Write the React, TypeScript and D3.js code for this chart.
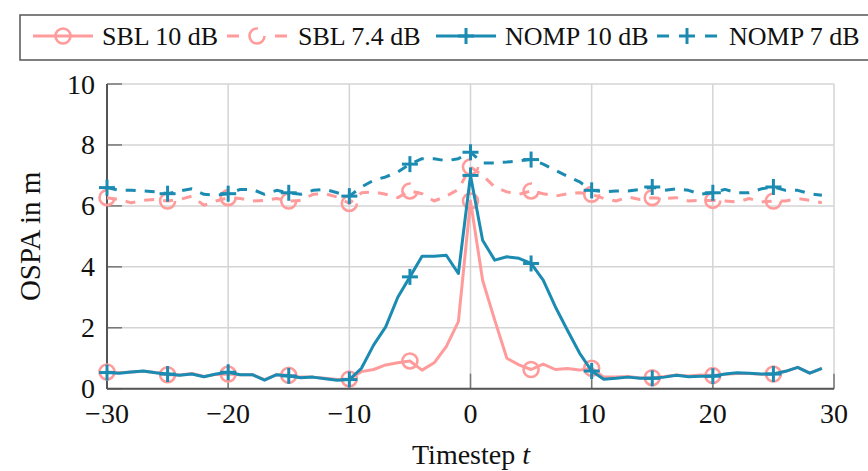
import React from "react";
import * as d3 from "d3";

const timesteps = d3.range(-30, 30);
const markerSteps = [-30, -25, -20, -15, -10, -5, 0, 5, 10, 15, 20, 25];

const sbl10 = [
  0.55, 0.52, 0.55, 0.57, 0.53, 0.46, 0.45, 0.5, 0.4, 0.47,
  0.48, 0.46, 0.46, 0.3, 0.46, 0.44, 0.38, 0.38, 0.34, 0.3,
  0.32, 0.56, 0.63, 0.78, 0.85, 0.91, 0.61, 0.85, 1.38, 2.2,
  6.16, 3.56, 2.25, 1.0, 0.78, 0.63, 0.81, 0.63, 0.66, 0.61,
  0.67, 0.38, 0.38, 0.4, 0.35, 0.36, 0.4, 0.45, 0.42, 0.45,
  0.43, 0.47, 0.5, 0.5, 0.47, 0.48, 0.57, 0.7, 0.51, 0.67,
];
const sbl74 = [
  6.27, 6.21, 6.1, 6.18, 6.21, 6.16, 6.21, 6.32, 6.02, 6.16,
  6.27, 6.24, 6.16, 6.18, 6.24, 6.16, 6.18, 6.38, 6.4, 6.29,
  6.08, 6.43, 6.46, 6.38, 6.27, 6.49, 6.4, 6.16, 6.32, 6.54,
  7.28, 7.0, 6.62, 6.46, 6.38, 6.49, 6.4, 6.32, 6.4, 6.43,
  6.38, 6.24, 6.16, 6.29, 6.21, 6.27, 6.24, 6.27, 6.16, 6.18,
  6.18, 6.16, 6.13, 6.24, 6.13, 6.16, 6.16, 6.24, 6.18, 6.1,
];
const nomp10 = [
  0.53, 0.51, 0.55, 0.58, 0.52, 0.48, 0.44, 0.48, 0.39, 0.48,
  0.54, 0.46, 0.46, 0.28, 0.46, 0.42, 0.36, 0.38, 0.33, 0.28,
  0.3, 0.67, 1.43, 2.03, 3.0, 3.67, 4.35, 4.35, 4.38, 3.78,
  7.0, 4.87, 4.22, 4.33, 4.28, 4.11, 3.56, 2.69, 1.92, 1.17,
  0.58, 0.31, 0.34, 0.38, 0.34, 0.34, 0.38, 0.44, 0.39, 0.41,
  0.41, 0.48, 0.52, 0.51, 0.48, 0.48, 0.57, 0.7, 0.51, 0.67,
];
const nomp7 = [
  6.6, 6.51, 6.51, 6.49, 6.46, 6.4, 6.49, 6.56, 6.38, 6.35,
  6.4, 6.54, 6.54, 6.38, 6.51, 6.43, 6.38, 6.51, 6.54, 6.43,
  6.32, 6.62, 6.84, 6.95, 7.11, 7.37, 7.55, 7.55, 7.48, 7.55,
  7.76, 7.41, 7.41, 7.44, 7.48, 7.52, 7.37, 7.17, 6.97, 6.79,
  6.51, 6.46, 6.49, 6.49, 6.54, 6.62, 6.51, 6.56, 6.51, 6.38,
  6.43, 6.54, 6.43, 6.43, 6.56, 6.62, 6.51, 6.51, 6.4, 6.35,
];

const xTicks = [-30, -20, -10, 0, 10, 20, 30];
const yTicks = [0, 2, 4, 6, 8, 10];
const seriesNames = ["SBL 10 dB", "SBL 7.4 dB", "NOMP 10 dB", "NOMP 7 dB"];

const PINK = "#ff9b9b";
const BLUE = "#1b8bb2";
const FONT = "'Liberation Serif', 'Times New Roman', serif";

const x = d3.scaleLinear().domain([-30, 30]).range([107, 834]);
const y = d3.scaleLinear().domain([0, 10]).range([388.7, 84]);

type Series = { name: string; values: number[]; color: string; dashed: boolean; marker: "circle" | "plus" };
const series: Series[] = [
  { name: seriesNames[0], values: sbl10, color: PINK, dashed: false, marker: "circle" },
  { name: seriesNames[1], values: sbl74, color: PINK, dashed: true, marker: "circle" },
  { name: seriesNames[2], values: nomp10, color: BLUE, dashed: false, marker: "plus" },
  { name: seriesNames[3], values: nomp7, color: BLUE, dashed: true, marker: "plus" },
];

const DASH = "10 9";

function Marker({ cx, cy, s }: { cx: number; cy: number; s: Series }) {
  if (s.marker === "circle") {
    return (
      <circle cx={cx} cy={cy} r={7.5} fill="none" stroke={s.color} strokeWidth={2.6}
        strokeDasharray={s.dashed ? "36 11" : undefined} />
    );
  }
  return (
    <g stroke={s.color} strokeWidth={3}>
      <line x1={cx - 8} x2={cx + 8} y1={cy} y2={cy} />
      <line x1={cx} x2={cx} y1={cy - 8} y2={cy + 8} />
    </g>
  );
}

export default function App() {
  const line = d3.line<number>().x((_, i) => x(timesteps[i])).y((d) => y(d));
  const legendItems = [
    { s: series[0], lx: 33, tx: 102 },
    { s: series[1], lx: 227, tx: 298 },
    { s: series[2], lx: 436, tx: 505 },
    { s: series[3], lx: 657, tx: 729 },
  ];
  return (
    <svg width={868} height={471} style={{ position: "absolute", left: 0, top: 0, background: "#fff" }}
      fontFamily={FONT}>
      {/* grid */}
      <g stroke="#d4d4d4" strokeWidth={1.5}>
        {xTicks.map((t) => (
          <line key={"gx" + t} x1={x(t)} x2={x(t)} y1={y(0)} y2={y(10)} />
        ))}
        {yTicks.map((t) => (
          <line key={"gy" + t} x1={x(-30)} x2={x(30)} y1={y(t)} y2={y(t)} />
        ))}
      </g>
      {/* ticks */}
      <g stroke="#777" strokeWidth={1.5}>
        {yTicks.map((t) => (
          <line key={"ty" + t} x1={x(-30)} x2={x(-30) + 15} y1={y(t)} y2={y(t)} />
        ))}
        {xTicks.map((t) => (
          <line key={"tx" + t} x1={x(t)} x2={x(t)} y1={y(0)} y2={y(0) - 15} />
        ))}
      </g>
      {/* axes */}
      <g stroke="#555" strokeWidth={2}>
        <line x1={x(-30)} x2={x(-30)} y1={y(0)} y2={y(10)} />
        <line x1={x(-30)} x2={x(30)} y1={y(0)} y2={y(0)} />
      </g>
      {/* data */}
      {series.map((s) => (
        <g key={s.name}>
          <path d={line(s.values) || ""} fill="none" stroke={s.color} strokeWidth={3}
            strokeDasharray={s.dashed ? DASH : undefined} strokeLinejoin="round" />
          {markerSteps.map((t) => (
            <Marker key={t} cx={x(t)} cy={y(s.values[timesteps.indexOf(t)])} s={s} />
          ))}
        </g>
      ))}
      {/* tick labels */}
      <g fontSize={28} fill="#111">
        {yTicks.map((t) => (
          <text key={"ly" + t} x={x(-30) - 12} y={y(t)} textAnchor="end" dominantBaseline="central">
            {t}
          </text>
        ))}
        {xTicks.map((t) => (
          <text key={"lx" + t} x={x(t)} y={423} textAnchor="middle">
            {t < 0 ? "\u2212" + Math.abs(t) : String(t)}
          </text>
        ))}
      </g>
      {/* axis titles */}
      <text x={471} y={464} textAnchor="middle" fontSize={28} fill="#111">
        Timestep <tspan fontStyle="italic">t</tspan>
      </text>
      <text transform={`translate(40,${(y(0) + y(10)) / 2}) rotate(-90)`} textAnchor="middle"
        fontSize={29} fill="#111">
        OSPA in m
      </text>
      {/* legend */}
      <rect x={20} y={15} width={870} height={45} fill="#fff" stroke="#555" strokeWidth={1.5} />
      {legendItems.map(({ s, lx, tx }) => (
        <g key={"lg" + s.name}>
          {s.dashed ? (
            <g>
              <line x1={lx} x2={lx + 12} y1={36} y2={36} stroke={s.color} strokeWidth={3} />
              <line x1={lx + 48} x2={lx + 60} y1={36} y2={36} stroke={s.color} strokeWidth={3} />
            </g>
          ) : (
            <line x1={lx} x2={lx + 60} y1={36} y2={36} stroke={s.color} strokeWidth={3} />
          )}
          <Marker cx={lx + 30} cy={36} s={s} />
          <text x={tx} y={36} dominantBaseline="central" fontSize={26} fill="#111">
            {s.name}
          </text>
        </g>
      ))}
    </svg>
  );
}
